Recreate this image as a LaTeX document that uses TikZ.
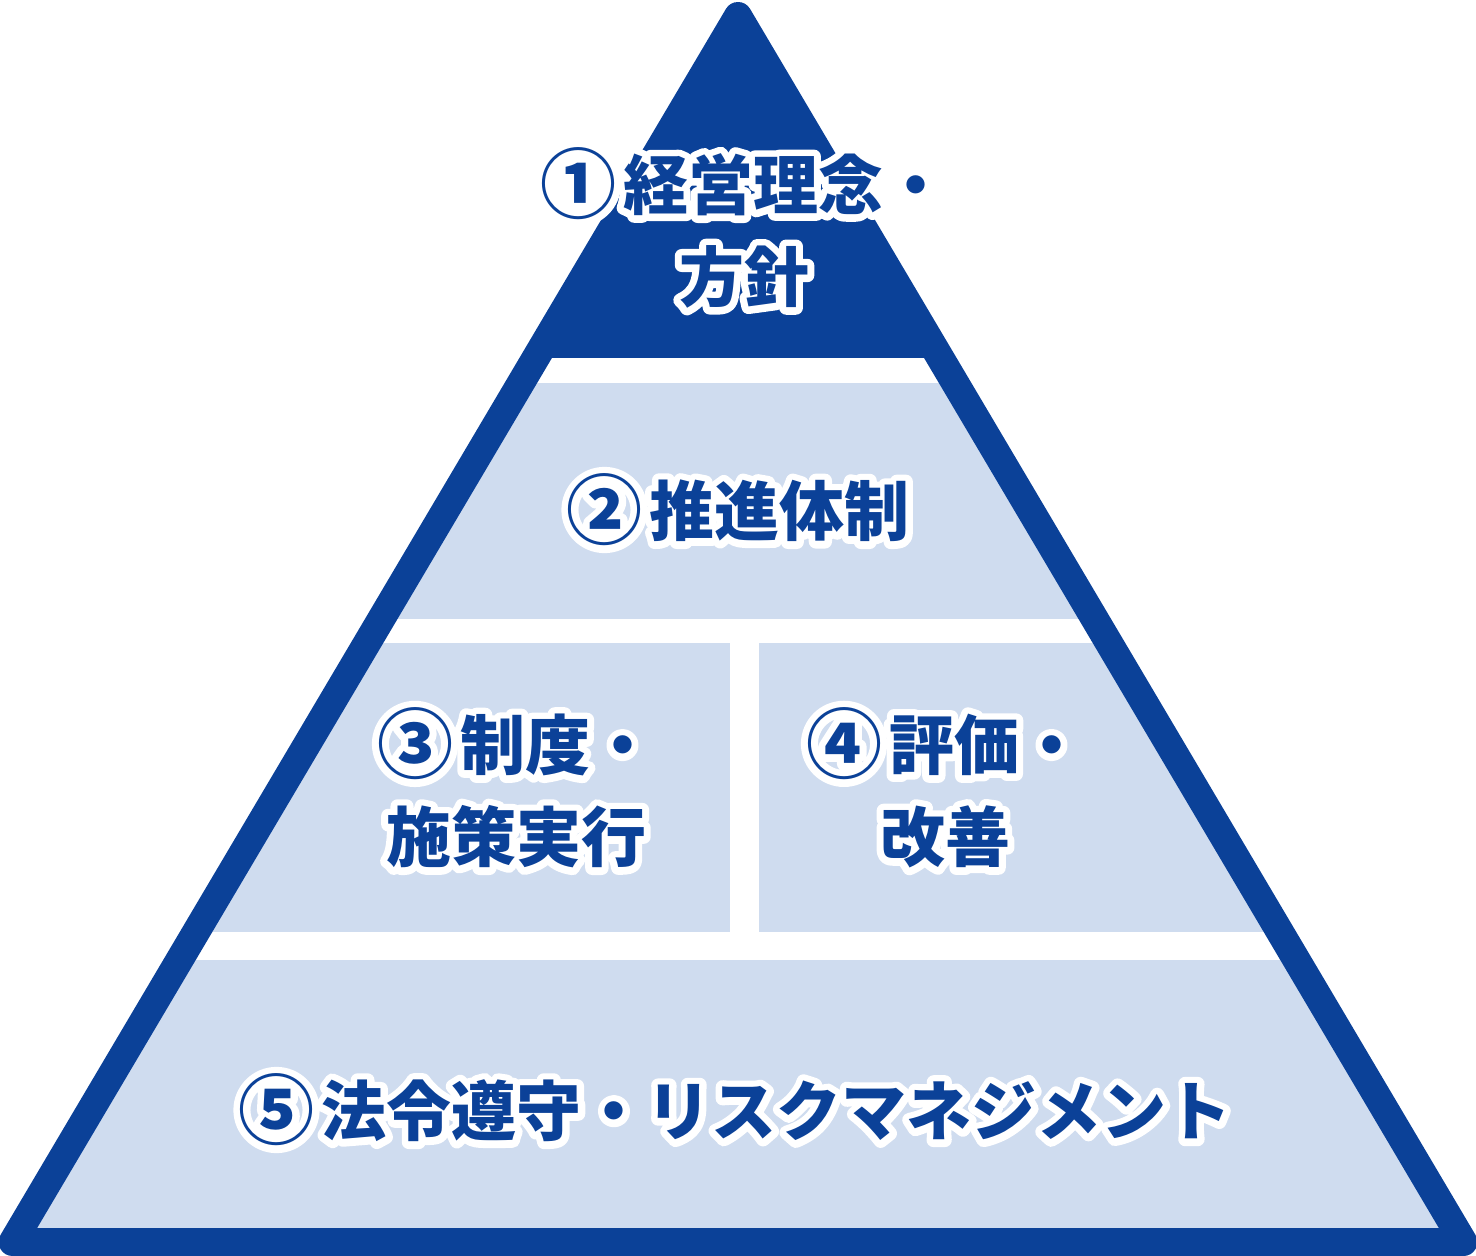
\documentclass[tikz,border=0pt]{standalone}
\usepackage{fontspec}
\newfontfamily\jpfont{Noto Sans CJK JP}
\usepackage{tikz}
\definecolor{pyrblue}{HTML}{0B4198}
\definecolor{pyrlight}{HTML}{CFDCEF}
\tikzset{
  layer/.style  = {font=\jpfont\bfseries\fontsize{65}{92}\selectfont,
                   align=center,
                   text=pyrblue,
                   inner sep=0pt},
  outline/.style = {draw=pyrblue,
                    line width=28,
                    line join=round}
}
% one line of text with a white rim behind it
\newcommand{\rim}[1]{%
  \rlap{\color{white}\special{pdf:literal direct 1 Tr 14 w 1 j}#1\special{pdf:literal direct 0 Tr}}#1}
% circled number, a little larger than the text
\newcommand{\num}[1]{{\fontsize{76}{92}\selectfont\raisebox{-3pt}{#1}}\hspace{7pt}}

\begin{document}
\begin{tikzpicture}[x=1pt,y=-1pt]

  \useasboundingbox (0,0) rectangle (1476,1256);

  % Corners
  \coordinate (apex)  at (738,16);
  \coordinate (left)  at (12.6,1242);
  \coordinate (right) at (1463.4,1242);

  % Layers
  \begin{scope}
    \clip (apex) -- (left) -- (right) -- cycle;
    \fill[pyrlight] (0,0) rectangle (1476,1256);
    \fill[pyrblue] (0,0) rectangle (1476,358);
    \fill[white] (0,358) rectangle (1476,383);
    \fill[white] (0,619) rectangle (1476,643);
    \fill[white] (730,643) rectangle (759,932);
    \fill[white] (0,932) rectangle (1476,960);
  \end{scope}
  \draw[outline] (apex) -- (left) -- (right) -- cycle;

  % Labels
  \node[layer] (policy)   at (744,228)  {\rim{\num{①}経営理念・}\\\rim{方針}};
  \node[layer] (setup)    at (738,510)  {\rim{\num{②}推進体制}};
  \node[layer] (measures) at (516,788)  {\rim{\num{③}制度・}\\\rim{施策実行}};
  \node[layer] (review)   at (945,788)  {\rim{\num{④}評価・}\\\rim{改善}};
  \node[layer] (risk)     at (735,1110) {\rim{\num{⑤}法令遵守・リスクマネジメント}};

\end{tikzpicture}
\end{document}
